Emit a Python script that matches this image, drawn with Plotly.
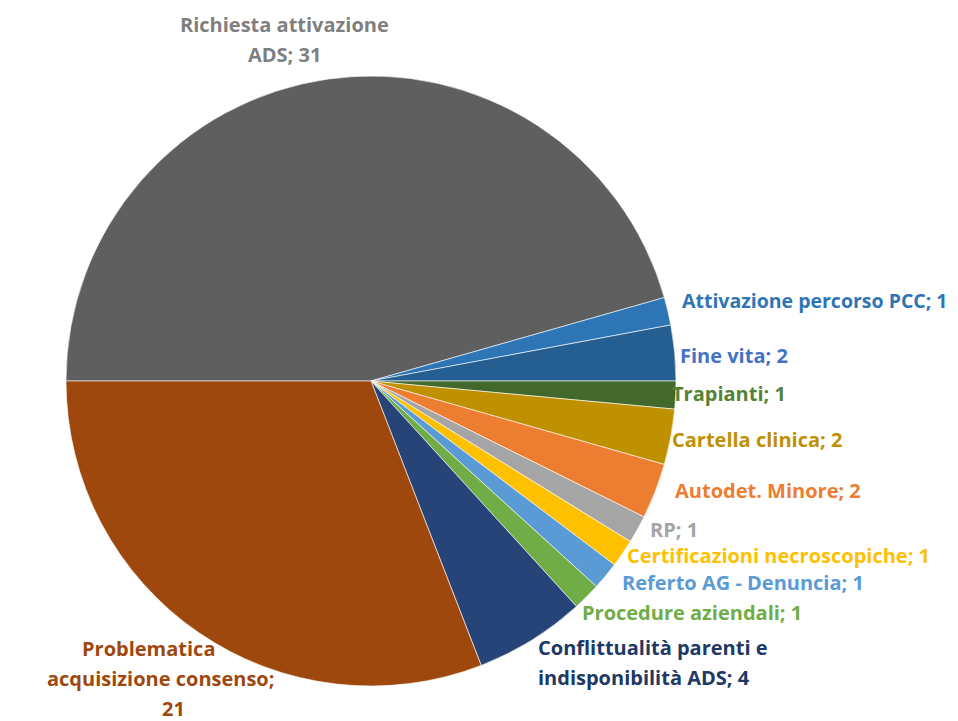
import plotly.graph_objects as go

categories = [
    "Richiesta attivazione ADS",
    "Attivazione percorso PCC",
    "Fine vita",
    "Trapianti",
    "Cartella clinica",
    "Autodet. Minore",
    "RP",
    "Certificazioni necroscopiche",
    "Referto AG - Denuncia",
    "Procedure aziendali",
    "Conflittualità parenti e indisponibilità ADS",
    "Problematica acquisizione consenso",
]
values = [31, 1, 2, 1, 2, 2, 1, 1, 1, 1, 4, 21]
colors = ["#5f5f5f", "#2e75b6", "#255e91", "#43682b", "#bf9000", "#ed7d31",
          "#a5a5a5", "#ffc000", "#5b9bd5", "#70ad47", "#264478", "#9e480e"]
label_colors = ["#7f7f7f", "#2e75b6", "#4472c4", "#548235", "#bf9000", "#ed7d31",
                "#a5a5a5", "#ffc000", "#5b9bd5", "#70ad47", "#203864", "#9e480e"]
# label text with manual line breaks as in the original
label_text = [
    "Richiesta attivazione<br>ADS; {}",
    "Attivazione percorso PCC; {}",
    "Fine vita; {}",
    "Trapianti; {}",
    "Cartella clinica; {}",
    "Autodet. Minore; {}",
    "RP; {}",
    "Certificazioni necroscopiche; {}",
    "Referto AG - Denuncia; {}",
    "Procedure aziendali; {}",
    "Conflittualità parenti e<br>indisponibilità ADS; {}",
    "Problematica<br>acquisizione consenso;<br>{}",
]

W, H = 958, 721
LINE = 30      # line spacing in pixels
DX, DY = -10, -8  # correction for annotation box padding
# label placement (pixels): x of each line (or one for all), y of first line, anchor, font size
label_pos = [
    ([276, 276], 25, "center", 20),
    ([682], 300, "left", 19.5),
    ([680], 355, "left", 20),
    ([672], 393, "left", 20),
    ([672], 440, "left", 20),
    ([675], 490, "left", 20),
    ([650], 529, "left", 20),
    ([627], 555, "left", 20),
    ([622], 582, "left", 20),
    ([582], 612, "left", 20),
    ([538, 538], 647, "left", 20),
    ([140, 152, 165], 648, "center", 20),
]

fig = go.Figure(go.Pie(
    labels=categories,
    values=values,
    sort=False,
    direction="clockwise",
    rotation=270,
    marker=dict(colors=colors, line=dict(color="rgba(255,255,255,0.6)", width=1)),
    textinfo="none",
    hoverinfo="label+value",
    showlegend=False,
    domain=dict(x=[58 / W, 668 / W], y=[1 - 678 / H, 1 - 68 / H]),
))

annotations = []
for txt, v, c, (xs, py, anc, fs) in zip(label_text, values, label_colors, label_pos):
    lines = txt.format(v).split("<br>")
    for i, line in enumerate(lines):
        px = xs[i] if i < len(xs) else xs[-1]
        if anc == "left":
            px += DX
        annotations.append(dict(
            x=px / W, y=1 - (py + i * LINE + DY) / H, xref="paper", yref="paper",
            text=line, showarrow=False, xanchor=anc, yanchor="middle",
            font=dict(family="Open Sans", size=fs, color=c, weight="bold"),
        ))

fig.update_layout(
    width=W, height=H,
    margin=dict(l=0, r=0, t=0, b=0),
    paper_bgcolor="white",
    plot_bgcolor="white",
    annotations=annotations,
)

fig.write_html("out.html")
